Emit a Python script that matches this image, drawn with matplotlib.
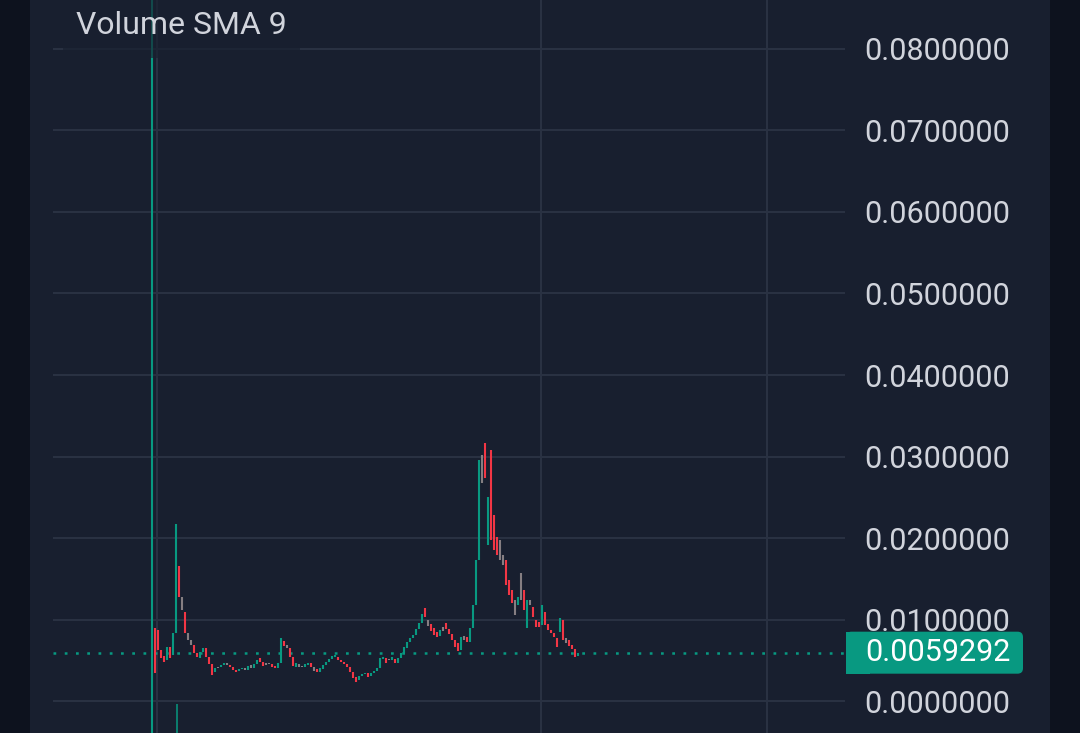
import matplotlib
matplotlib.use("Agg")
import matplotlib.pyplot as plt
from matplotlib.patches import Rectangle, FancyBboxPatch
import numpy as np

# ---------------- data (prices in thousandths, i.e. 8.96 -> 0.00896) ----------------
opens_k = [
    0.0, 8.96, 8.34, 6.26, 5.52, 5.03, 6.63, 5.64, 8.34, 16.56,
    12.76, 10.92, 8.34, 7.48, 6.87, 5.89, 5.28, 6.01, 6.50, 5.40,
    4.54, 3.56, 4.05, 4.17, 4.42, 4.66, 4.42, 4.17, 3.80, 3.68,
    3.93, 4.05, 3.80, 4.42, 4.05, 4.54, 5.28, 4.79, 4.42, 4.66,
    4.54, 4.29, 4.05, 4.66, 7.36, 6.87, 6.50, 5.40, 4.17, 4.54,
    4.17, 4.17, 4.42, 4.66, 4.17, 3.93, 3.56, 3.93, 4.42, 4.79,
    5.15, 5.40, 5.40, 5.03, 4.79, 4.54, 4.17, 3.56, 2.94, 2.58,
    3.07, 3.31, 3.44, 3.07, 3.44, 3.68, 4.05, 5.15, 5.28, 5.03,
    5.03, 5.15, 4.66, 5.28, 5.89, 6.50, 7.24, 7.73, 8.10, 8.83,
    9.57, 11.41, 9.94, 9.45, 8.96, 8.47, 7.98, 8.59, 9.57, 8.83,
    8.22, 7.48, 7.12, 6.26, 7.98, 7.85, 7.24, 8.96, 11.78, 17.30,
    26.75, 30.80, 19.75, 27.12, 22.82, 20.12, 19.75, 17.91, 17.30, 14.85,
    13.62, 12.39, 11.78, 12.39, 13.62, 10.92, 12.39, 11.53, 9.94, 9.69,
    9.33, 10.92, 9.45, 8.71, 8.34, 7.73, 8.47, 9.94, 7.73, 7.48,
    6.87, 6.38, 5.52,
]
closes_k = [
    8.96, 4.05, 6.26, 5.28, 5.03, 6.63, 5.28, 8.34, 16.56, 12.76,
    11.17, 8.34, 7.48, 6.87, 5.89, 5.40, 6.01, 6.50, 5.40, 4.54,
    3.19, 4.05, 4.17, 4.42, 4.66, 4.42, 4.17, 3.80, 3.56, 3.93,
    4.05, 3.80, 4.29, 4.05, 4.54, 5.03, 4.79, 4.29, 4.66, 4.54,
    4.17, 4.05, 4.66, 7.48, 6.75, 6.50, 5.40, 4.29, 4.66, 4.17,
    4.29, 4.54, 4.66, 4.17, 3.68, 3.56, 4.05, 4.42, 4.79, 5.15,
    5.52, 5.64, 5.03, 4.79, 4.54, 4.17, 3.56, 2.82, 2.33, 3.07,
    3.31, 3.44, 2.94, 3.44, 3.68, 4.05, 5.28, 5.40, 4.66, 5.15,
    5.40, 4.66, 5.28, 5.89, 6.63, 7.24, 7.73, 8.10, 8.83, 9.57,
    10.67, 10.31, 9.20, 8.59, 8.10, 7.85, 8.71, 9.08, 8.83, 8.22,
    7.48, 6.63, 6.13, 7.85, 7.48, 7.24, 8.96, 11.78, 17.30, 26.75,
    28.96, 27.36, 25.03, 19.75, 18.53, 17.91, 17.30, 16.69, 14.23, 13.01,
    12.02, 10.55, 12.76, 13.62, 11.17, 12.39, 11.78, 10.31, 9.08, 9.08,
    10.92, 9.33, 8.71, 8.34, 7.85, 6.63, 9.69, 7.48, 7.12, 6.75,
    6.38, 5.40, 5.9292,
]
# wicks that reach beyond the candle body (index: price in thousandths)
wick_highs_k = {0: 100.0, 2: 8.71, 8: 21.72, 43: 7.73, 109: 29.57, 110: 30.18,
                111: 31.66, 113: 30.80, 123: 15.71, 130: 11.78, 136: 10.18}
wick_lows_k = {0: -5.0, 1: 3.44, 4: 4.79, 112: 19.14, 125: 8.96}
# a stray wick fragment drawn below the zero line
stray_lows_k = {8: (-0.4, -5.0)}
# neutral (grey) candles
grey_idx = [10, 12, 13, 22, 25, 31, 33, 38, 39, 45, 49, 50, 54, 79, 92, 97,
            104, 110, 116, 117, 121, 123, 126, 138]

time_grid_pos = [1.667, 129.67, 205.0]          # vertical time gridlines (bar index)
y_ticks = [0.00, 0.01, 0.02, 0.03, 0.04, 0.05, 0.06, 0.07, 0.08]
last_price = 0.0059292
legend_text = "Volume SMA 9"

# ---------------- style ----------------
W, H = 1080, 733
OUTER = "#0d121e"
PANEL = "#181f2f"
GRID = "#2a3243"
TEXT = "#d1d4dc"
UP = "#089981"
DOWN = "#f23645"
NEUTRAL = "#857e82"
FONT = "Roboto"
TICK_FS = 22
LEGEND_FS = 23
MIN_BODY = 0.00022

def fx(px):
    return px / W

def fy(py_top):
    return 1 - py_top / H

fig = plt.figure(figsize=(W / 100, H / 100), dpi=100)
fig.patch.set_facecolor(OUTER)
fig.add_artist(Rectangle((fx(30), 0), fx(1050) - fx(30), 1, transform=fig.transFigure,
                         facecolor=PANEL, edgecolor="none", zorder=0))

ax = fig.add_axes([fx(53), 0, fx(845) - fx(53), 1])
ax.set_facecolor("none")
for s in ax.spines.values():
    s.set_visible(False)

opens = np.array(opens_k) / 1000.0
closes = np.array(closes_k) / 1000.0
n = len(opens)
idx = np.arange(n)
highs = np.maximum(opens, closes)
lows = np.minimum(opens, closes)
for k, v in wick_highs_k.items():
    highs[k] = v / 1000.0
for k, v in wick_lows_k.items():
    lows[k] = v / 1000.0

colors = []
for i in range(n):
    if i in grey_idx:
        colors.append(NEUTRAL)
    elif closes[i] >= opens[i]:
        colors.append(UP)
    else:
        colors.append(DOWN)

ax.set_xlim(-33, 231)
ax.set_ylim(-0.003926, 0.086012)

# grid
ax.set_yticks(y_ticks)
ax.yaxis.grid(True, color=GRID, linewidth=1.4, zorder=1)
for xp in time_grid_pos:
    ax.axvline(xp, color=GRID, linewidth=1.4, zorder=1)
ax.set_xticks([])

# candles
ax.vlines(idx, lows, highs, colors=colors, linewidth=1.5, zorder=3)
body_bottom = np.minimum(opens, closes)
body_h = np.maximum(np.abs(closes - opens), MIN_BODY)
ax.bar(idx, body_h, bottom=body_bottom - (body_h - np.abs(closes - opens)) / 2,
       width=0.95, color=colors, linewidth=0, zorder=3)
for k, (a, b) in stray_lows_k.items():
    ax.vlines([k + 0.3], b / 1000.0, a / 1000.0, colors=UP, linewidth=1.1, zorder=3)

# last price dotted line
ax.axhline(last_price, color=UP, linewidth=1.8, linestyle=(0, (1.1, 3.4)), zorder=2)

# y tick labels on the right
ax.yaxis.tick_right()
ax.set_yticklabels([f"{v:.7f}" for v in y_ticks])
ax.tick_params(axis="y", length=0, pad=14, labelsize=TICK_FS, labelcolor=TEXT)
for lab in ax.get_yticklabels():
    lab.set_fontfamily(FONT)

# legend box (semi transparent) with text
fig.add_artist(Rectangle((fx(63), fy(58)), fx(300) - fx(63), fy(0) - fy(58),
                         transform=fig.transFigure, facecolor=PANEL, alpha=0.65,
                         edgecolor="none", zorder=5))
fig.text(fx(76), fy(25), legend_text, color=TEXT, fontsize=LEGEND_FS, family=FONT,
         ha="left", va="center", zorder=6)

# last price tag
fig.canvas.draw()
yc_disp = ax.transData.transform((0, last_price))[1]
yc = yc_disp / H
bh = 42 / H
fig.add_artist(FancyBboxPatch((fx(846), yc - bh / 2), fx(1023) - fx(846), bh,
                              boxstyle="round,pad=0,rounding_size=0.005",
                              transform=fig.transFigure, facecolor=UP,
                              edgecolor="none", zorder=7, mutation_aspect=W / H))
fig.add_artist(Rectangle((fx(846), yc - bh / 2), fx(870) - fx(846), bh,
                         transform=fig.transFigure, facecolor=UP, edgecolor="none", zorder=7))
fig.text(fx(865), yc, f"{last_price:.7f}", color="white", fontsize=TICK_FS, family=FONT,
         ha="left", va="center", zorder=8)

fig.savefig("out.png", dpi=100, facecolor=fig.get_facecolor())
